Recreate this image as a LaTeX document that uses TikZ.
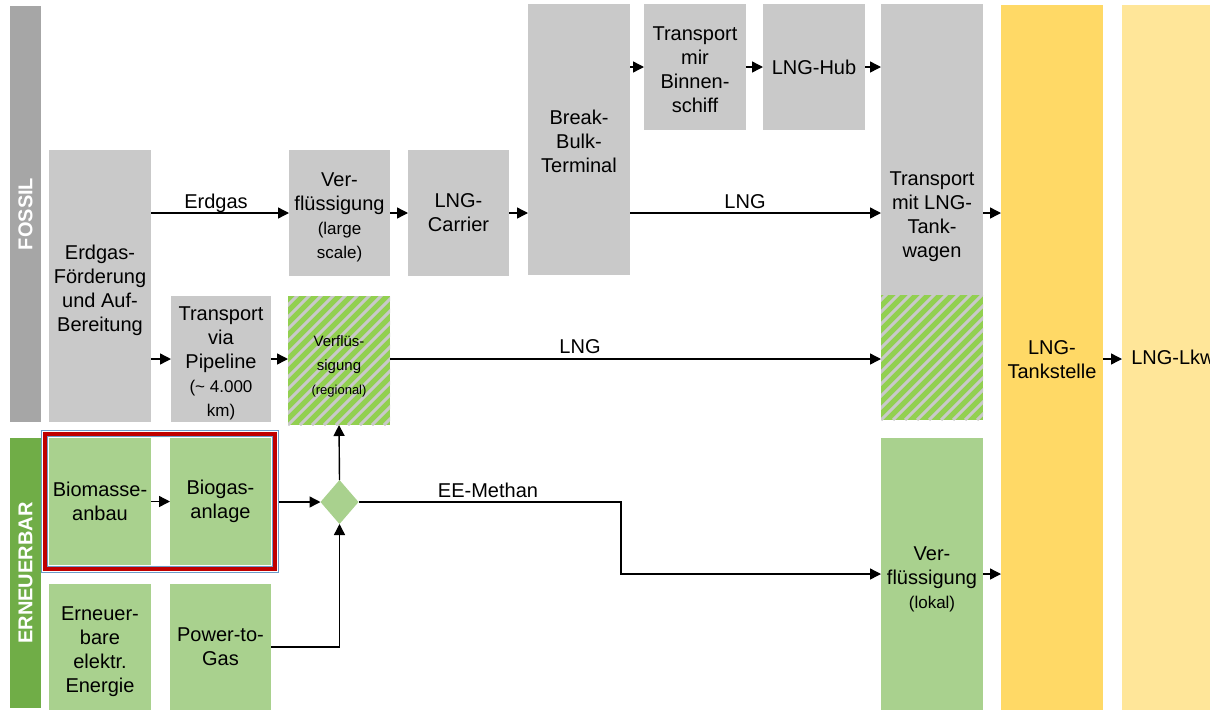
\documentclass[tikz,border=0pt]{standalone}
\usepackage{fontspec}
\setmainfont{Liberation Sans}
\usetikzlibrary{arrows.meta,shapes.geometric}
\definecolor{boxgray}{HTML}{C9C9C9}
\definecolor{fossilgray}{HTML}{A6A6A6}
\definecolor{boxgreen}{HTML}{A9D18E}
\definecolor{barGreen}{HTML}{70AD47}
\definecolor{hatchgreen}{HTML}{92D050}
\definecolor{tankyellow}{HTML}{FFD966}
\definecolor{lkwyellow}{HTML}{FFE699}
\definecolor{frameRed}{HTML}{C00000}
\definecolor{frameBlue}{HTML}{6C9BC9}
\tikzset{
  base/.style={inner sep=0pt, outer sep=0pt, align=center, font=\fontsize{20}{24}\selectfont},
  graybox/.style={base, fill=boxgray},
  greenbox/.style={base, fill=boxgreen},
  hatchbox/.style={base},
  sidebar/.style={base, text=white, font=\fontsize{20}{24}\selectfont\bfseries, rotate=90},
  flow/.style={line width=1.4pt, -{Triangle[length=11pt,width=11pt]}},
  lbl/.style={font=\fontsize{20}{24}\selectfont, inner sep=0pt, anchor=base}
}
\newcommand{\sm}{\fontsize{17}{20}\selectfont}
\newcommand{\fl}[1]{\rule{0pt}{#1}}
\newcommand{\hatchrect}[4]{%
  \begin{scope}
    \clip (#1,#2) rectangle (#3,#4);
    \fill[hatchgreen] (#1,#2) rectangle (#3,#4);
    \foreach \k in {-20,...,25} {
      \draw[boxgray, line width=3pt] (#1+\k*12,#4) -- ++(200,-200);
    }
  \end{scope}}
\begin{document}
\begin{tikzpicture}[x=1pt,y=-1pt]
\useasboundingbox (0,0) rectangle (1210,710);
\clip (0,0) rectangle (1210,710);

% side bars
\node[base, fill=fossilgray, minimum width=31pt, minimum height=416pt] (fossilbar) at (25.5,214) {};
\node[sidebar] (fossiltxt) at (fossilbar.center) {FOSSIL};
\node[base, fill=barGreen, minimum width=31pt, minimum height=270pt] (eebar) at (25.5,573) {};
\node[sidebar] (eetxt) at (eebar.center) {ERNEUERBAR};

% yellow columns
\node[base, fill=tankyellow, minimum width=102pt, minimum height=705pt] (tank) at (1052,357.5) {\fl{18pt}LNG-\\Tankstelle};
\node[base, fill=lkwyellow, minimum width=102pt, minimum height=705pt] (lkw) at (1173,357.5) {LNG-Lkw};

% fossil boxes
\node[graybox, minimum width=102pt, minimum height=272pt] (foerd) at (100,286) {\fl{23pt}Erdgas-\\Förderung\\und Auf-\\Bereitung};
\node[graybox, minimum width=101pt, minimum height=126pt] (verfl) at (339.5,213) {\fl{23pt}Ver-\\flüssigung\\{\sm(large}\\{\sm scale)}};
\node[graybox, minimum width=101pt, minimum height=126pt] (carrier) at (458.5,213) {LNG-\\Carrier};
\node[graybox, minimum width=102pt, minimum height=271pt] (bbt) at (579,139.5) {\fl{19pt}Break-\\Bulk-\\Terminal};
\node[graybox, minimum width=102pt, minimum height=126pt] (binnen) at (695,67) {\fl{20pt}Transport\\mir\\Binnen-\\schiff};
\node[graybox, minimum width=102pt, minimum height=126pt] (hub) at (814,67) {LNG-Hub};
\node[graybox, minimum width=102pt, minimum height=416pt] (tankw) at (932,212) {\fl{24pt}Transport\\mit LNG-\\Tank-\\wagen};
\node[graybox, minimum width=100pt, minimum height=126pt] (pipe) at (221,359) {\fl{23pt}Transport\\via\\Pipeline\\{\sm(\textasciitilde{} 4.000}\\{\sm km)}};

% hatched boxes
\hatchrect{288}{296}{390}{425}
\node[hatchbox, minimum width=102pt, minimum height=129pt] (regional) at (339,360.5) {\fontsize{15}{20}\selectfont\fl{22pt}Verflüs-\\\fontsize{15}{20}\selectfont sigung\\\fontsize{13}{16}\selectfont(regional)};
\hatchrect{881}{295}{983}{420}
\node[hatchbox, minimum width=102pt, minimum height=125pt] (hatchR) at (932,357.5) {};

% renewable boxes
\node[base, draw=frameBlue, line width=1pt, minimum width=237pt, minimum height=142pt] (frame) at (160,501.5) {};
\node[base, draw=frameRed, line width=4.5pt, minimum width=230pt, minimum height=135pt] (frameR) at (160,501.5) {};
\node[base, draw=frameBlue, line width=1pt, minimum width=225pt, minimum height=130pt] (frameI) at (160,501.5) {};
\node[greenbox, minimum width=102pt, minimum height=127pt] (bio) at (100,501.5) {Biomasse-\\anbau};
\node[greenbox, minimum width=101pt, minimum height=127pt] (biogas) at (220.5,501.5) {Biogas-\\anlage};
\node[greenbox, minimum width=102pt, minimum height=126pt] (ee) at (100,647) {\fl{23pt}Erneuer-\\bare\\elektr.\\Energie};
\node[greenbox, minimum width=101pt, minimum height=126pt] (ptg) at (220.5,647) {Power-to-\\Gas};
\node[greenbox, minimum width=102pt, minimum height=272pt] (lokal) at (932,574) {\fl{24pt}Ver-\\flüssigung\\{\sm(lokal)}};
\node[base, shape=diamond, fill=boxgreen, minimum width=38pt, minimum height=44pt] (dia) at (339.5,502) {};

% connectors
\coordinate (bend) at (621,502);
\draw[flow] (foerd.east |- verfl.west) -- (verfl.west);
\draw[flow] (verfl.east) -- (carrier.west);
\draw[flow] (carrier.east) -- (bbt.west |- carrier.east);
\draw[flow] (bbt.east |- carrier.east) -- (tankw.west |- carrier.east);
\draw[flow] (bbt.east |- binnen.west) -- (binnen.west);
\draw[flow] (binnen.east) -- (hub.west);
\draw[flow] (hub.east) -- (tankw.west |- hub.east);
\draw[flow] (foerd.east |- pipe.west) -- (pipe.west);
\draw[flow] (pipe.east) -- (regional.west |- pipe.east);
\draw[flow] (regional.east |- pipe.east) -- (hatchR.west |- pipe.east);
\draw[flow] (tankw.east |- carrier.east) -- (tank.west |- carrier.east);
\draw[flow] (tank.east |- pipe.east) -- (lkw.west |- pipe.east);
\draw[flow] (bio.east) -- (biogas.west);
\draw[flow] (frame.east |- dia.west) -- (dia.west);
\draw[flow] (dia.north) -- (regional.south);
\draw[flow] (ptg.east) -| (dia.south);
\draw[flow] (dia.east) -- (bend) |- (lokal.west);
\draw[flow] (lokal.east) -- (tank.west |- lokal.east);

% labels
\node[lbl] (lErdgas) at (216,208) {Erdgas};
\node[lbl] (lLNG1) at (745,208) {LNG};
\node[lbl] (lLNG2) at (580,353) {LNG};
\node[lbl] (lEE) at (488,497) {EE-Methan};
\end{tikzpicture}
\end{document}
